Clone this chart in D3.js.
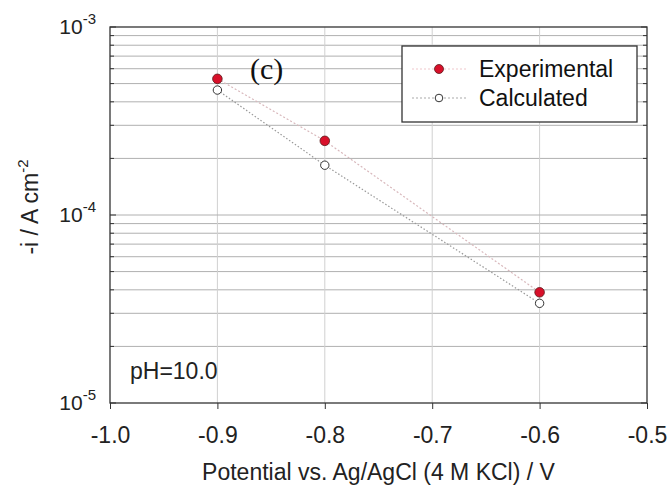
<!DOCTYPE html>
<html><head><meta charset="utf-8">
<script src="https://cdn.jsdelivr.net/npm/d3@7"></script>
<style>body{margin:0;background:#fff}svg{display:block}text{font-family:"Liberation Sans",Arial,sans-serif}</style>
</head><body><svg id="c" width="670" height="488"></svg>
<script>
const potentials = [-0.9, -0.8, -0.6];
const experimental = [5.3e-4, 2.48e-4, 3.88e-5];
const calculated = [4.62e-4, 1.84e-4, 3.39e-5];
const xTicks = [-1.0, -0.9, -0.8, -0.7, -0.6, -0.5];
const yMajor = [1e-5, 1e-4, 1e-3];
const yMajorExp = ["-5", "-4", "-3"];

const svg = d3.select("#c");
const L = 110, R = 647, T = 27, B = 403;
const x = d3.scaleLinear().domain([-1.0, -0.5]).range([L, R]);
const y = d3.scaleLog().domain([1e-5, 1e-3]).range([B, T]);

const minors = [];
[1e-5, 1e-4].forEach(d => { for (let k = 2; k <= 9; k++) minors.push(d * k); });

// horizontal grid at minor ticks
svg.append("g").selectAll("line").data(minors).join("line")
  .attr("x1", L).attr("x2", R).attr("y1", d => y(d)).attr("y2", d => y(d))
  .attr("stroke", "#b0b0b0").attr("stroke-width", 1);
// vertical grid at major x ticks
svg.append("g").selectAll("line").data(xTicks.slice(1, -1)).join("line")
  .attr("x1", d => x(d)).attr("x2", d => x(d)).attr("y1", T).attr("y2", B)
  .attr("stroke", "#d0d0d0").attr("stroke-width", 1);
svg.append("line").attr("x1", L).attr("x2", R).attr("y1", y(1e-4)).attr("y2", y(1e-4))
  .attr("stroke", "#b0b0b0");

// frame
svg.append("rect").attr("x", L).attr("y", T).attr("width", R - L).attr("height", B - T)
  .attr("fill", "none").attr("stroke", "#333").attr("stroke-width", 1.3);

// y ticks inward (left & right)
const yt = svg.append("g");
yMajor.forEach(d => {
  yt.append("line").attr("x1", L).attr("x2", L + 6).attr("y1", y(d)).attr("y2", y(d)).attr("stroke", "#333");
  yt.append("line").attr("x1", R).attr("x2", R - 6).attr("y1", y(d)).attr("y2", y(d)).attr("stroke", "#333");
});
minors.forEach(d => {
  yt.append("line").attr("x1", L).attr("x2", L + 4).attr("y1", y(d)).attr("y2", y(d)).attr("stroke", "#333");
  yt.append("line").attr("x1", R).attr("x2", R - 4).attr("y1", y(d)).attr("y2", y(d)).attr("stroke", "#333");
});
// y labels
yMajor.forEach((d, i) => {
  const t = svg.append("text").attr("x", 96).attr("y", y(d) + 7).attr("text-anchor", "end")
    .attr("font-size", 21).attr("fill", "#222");
  t.append("tspan").text("10");
  t.append("tspan").attr("dy", -10).attr("font-size", 15).text(yMajorExp[i]);
});

// x axis ticks outward
const xAxis = d3.axisBottom(x).tickValues(xTicks).tickFormat(d3.format(".1f")).tickSize(6).tickSizeOuter(0);
const xg = svg.append("g").attr("transform", `translate(0,${B})`).call(xAxis);
xg.select(".domain").remove();
xg.selectAll(".tick line").attr("stroke", "#333");
xg.selectAll(".tick text").attr("font-size", 23).attr("fill", "#222").attr("y", 40).attr("dy", 0)
  .style("font-family", '"Liberation Sans",Arial,sans-serif').text(d => d3.format(".1f")(d).replace("−", "-"));

// axis titles
svg.append("text").attr("x", (L + R) / 2 + 0).attr("y", 480).attr("text-anchor", "middle")
  .attr("font-size", 23).attr("fill", "#222").text("Potential vs. Ag/AgCl (4 M KCl) / V");
const yt2 = svg.append("text").attr("transform", "translate(38,207) rotate(-90)").attr("text-anchor", "middle")
  .attr("font-size", 23).attr("fill", "#222");
yt2.append("tspan").text("-i / A cm");
yt2.append("tspan").attr("dy", -10).attr("font-size", 15).text("-2");

// lines
const line = d3.line().x(d => x(d[0])).y(d => y(d[1]));
const expData = potentials.map((p, i) => [p, experimental[i]]);
const calData = potentials.map((p, i) => [p, calculated[i]]);
svg.append("path").attr("d", line(expData)).attr("fill", "none").attr("stroke", "#d8b8bc")
  .attr("stroke-width", 1.2).attr("stroke-dasharray", "2,2");
svg.append("path").attr("d", line(calData)).attr("fill", "none").attr("stroke", "#999")
  .attr("stroke-width", 1.2).attr("stroke-dasharray", "1.5,2");

// points
svg.append("g").selectAll("circle").data(expData).join("circle")
  .attr("cx", d => x(d[0])).attr("cy", d => y(d[1])).attr("r", 4.8)
  .attr("fill", "#d8102a").attr("stroke", "#5a1a1a").attr("stroke-width", 0.8);
svg.append("g").selectAll("circle").data(calData).join("circle")
  .attr("cx", d => x(d[0])).attr("cy", d => y(d[1])).attr("r", 4.2)
  .attr("fill", "#fff").attr("stroke", "#333").attr("stroke-width", 1);

// annotations
svg.append("text").attr("x", 250).attr("y", 79).attr("font-size", 30)
  .style("font-family", '"Liberation Serif","Times New Roman",serif').attr("fill", "#111").text("(c)");
svg.append("text").attr("x", 130).attr("y", 379).attr("font-size", 23).attr("fill", "#222").text("pH=10.0");

// legend
const lg = svg.append("g");
lg.append("rect").attr("x", 402).attr("y", 46).attr("width", 235).attr("height", 76)
  .attr("fill", "#fff").attr("stroke", "#333").attr("stroke-width", 1.3);
lg.append("line").attr("x1", 412).attr("x2", 468).attr("y1", 69).attr("y2", 69)
  .attr("stroke", "#f0c8cc").attr("stroke-width", 1.2).attr("stroke-dasharray", "2,2");
lg.append("circle").attr("cx", 439).attr("cy", 69).attr("r", 4.5).attr("fill", "#d8102a").attr("stroke", "#5a1a1a").attr("stroke-width", 0.8);
lg.append("text").attr("x", 479).attr("y", 77).attr("font-size", 23).attr("fill", "#111").text("Experimental");
lg.append("line").attr("x1", 412).attr("x2", 468).attr("y1", 98).attr("y2", 98)
  .attr("stroke", "#aaa").attr("stroke-width", 1.1).attr("stroke-dasharray", "2,2");
lg.append("circle").attr("cx", 439).attr("cy", 98).attr("r", 3.8).attr("fill", "#fff").attr("stroke", "#333").attr("stroke-width", 1);
lg.append("text").attr("x", 479).attr("y", 106).attr("font-size", 23).attr("fill", "#111").text("Calculated");
</script></body></html>
